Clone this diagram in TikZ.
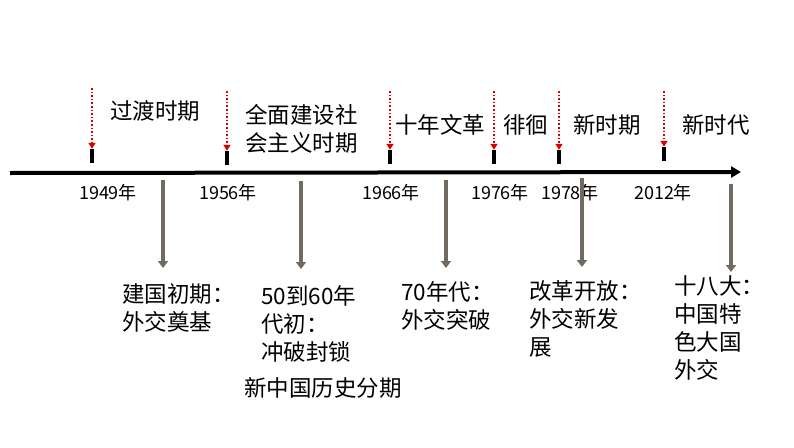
\documentclass[tikz,border=0pt]{standalone}
\usepackage{fontspec}
\setmainfont{Noto Sans CJK SC}
\usetikzlibrary{arrows.meta}
\definecolor{arrgray}{RGB}{112,106,96}
\tikzset{
  tickbar/.style={fill=black,draw=none,minimum width=4pt,minimum height=14pt,inner sep=0pt},
  reddash/.style={red!85!black,line width=1.6pt,dotted,-{Triangle[width=7pt,length=6pt]}},
  grayarr/.style={arrgray,line width=4.5pt,-{Triangle[width=10pt,length=7pt]}},
  yearlbl/.style={font=\fontsize{18}{20}\selectfont,inner sep=0pt,anchor=base},
  perlbl/.style={font=\fontsize{22.5}{28}\selectfont,inner sep=0pt,anchor=base west,align=left},
  botlbl/.style={font=\fontsize{22.5}{28}\selectfont,inner sep=0pt,anchor=base west,align=left},
}
\begin{document}
\begin{tikzpicture}[x=1pt,y=-1pt]
\useasboundingbox (0,0) rectangle (794,447);
% main axis
\coordinate (axs) at (10,173);
\coordinate (axe) at (741,172);
\draw[line width=4pt,-{Triangle[width=11pt,length=10pt]}] (axs) -- (axe);
% ticks
\node[tickbar] (t1) at (92,156) {};
\node[tickbar] (t2) at (227,158) {};
\node[tickbar] (t3) at (390,157) {};
\node[tickbar] (t4) at (494,157) {};
\node[tickbar] (t5) at (559,157) {};
\node[tickbar] (t6) at (664,154) {};
% red arrow starts
\coordinate (r1) at (92,88);
\coordinate (r2) at (227,91);
\coordinate (r3) at (390,91);
\coordinate (r4) at (494,91);
\coordinate (r5) at (559,91);
\coordinate (r6) at (664,91);
\foreach \i in {1,...,6} \draw[reddash] (r\i) -- (t\i.north);
% years
\node[yearlbl] (y1) at (108,199) {1949年};
\node[yearlbl] (y2) at (228,199) {1956年};
\node[yearlbl] (y3) at (391,199) {1966年};
\node[yearlbl] (y4) at (500,199) {1976年};
\node[yearlbl] (y5) at (570,199) {1978年};
\node[yearlbl] (y6) at (663,199) {2012年};
% period labels
\node[perlbl] (p1) at (110,119) {过渡时期};
\node[perlbl] (p2) at (245,151) {全面建设社\\会主义时期};
\node[perlbl] (p3) at (395,133) {十年文革};
\node[perlbl] (p4) at (503,133) {徘徊};
\node[perlbl] (p5) at (573,133) {新时期};
\node[perlbl] (p6) at (682,133) {新时代};
% gray arrows
\coordinate (g1s) at (163,180); \coordinate (g1e) at (163,268);
\coordinate (g2s) at (301,181); \coordinate (g2e) at (301,269);
\coordinate (g3s) at (446,180); \coordinate (g3e) at (446,268);
\coordinate (g4s) at (582,178); \coordinate (g4e) at (582,267);
\coordinate (g5s) at (731,184); \coordinate (g5e) at (731,272);
\foreach \i in {1,...,5} \draw[grayarr] (g\i s) -- (g\i e);
% bottom labels
\node[botlbl] (b1) at (122,330) {建国初期：\\外交奠基};
\node[botlbl] (b2) at (261,360) {50到60年\\代初：\\冲破封锁};
\node[botlbl] (b3) at (401,328) {70年代：\\外交突破};
\node[botlbl] (b4) at (529,355) {改革开放：\\外交新发\\展};
\node[botlbl] (b5) at (674,378) {十八大：\\中国特\\色大国\\外交};
\node[botlbl] (b6) at (244,396) {新中国历史分期};
\end{tikzpicture}
\end{document}
